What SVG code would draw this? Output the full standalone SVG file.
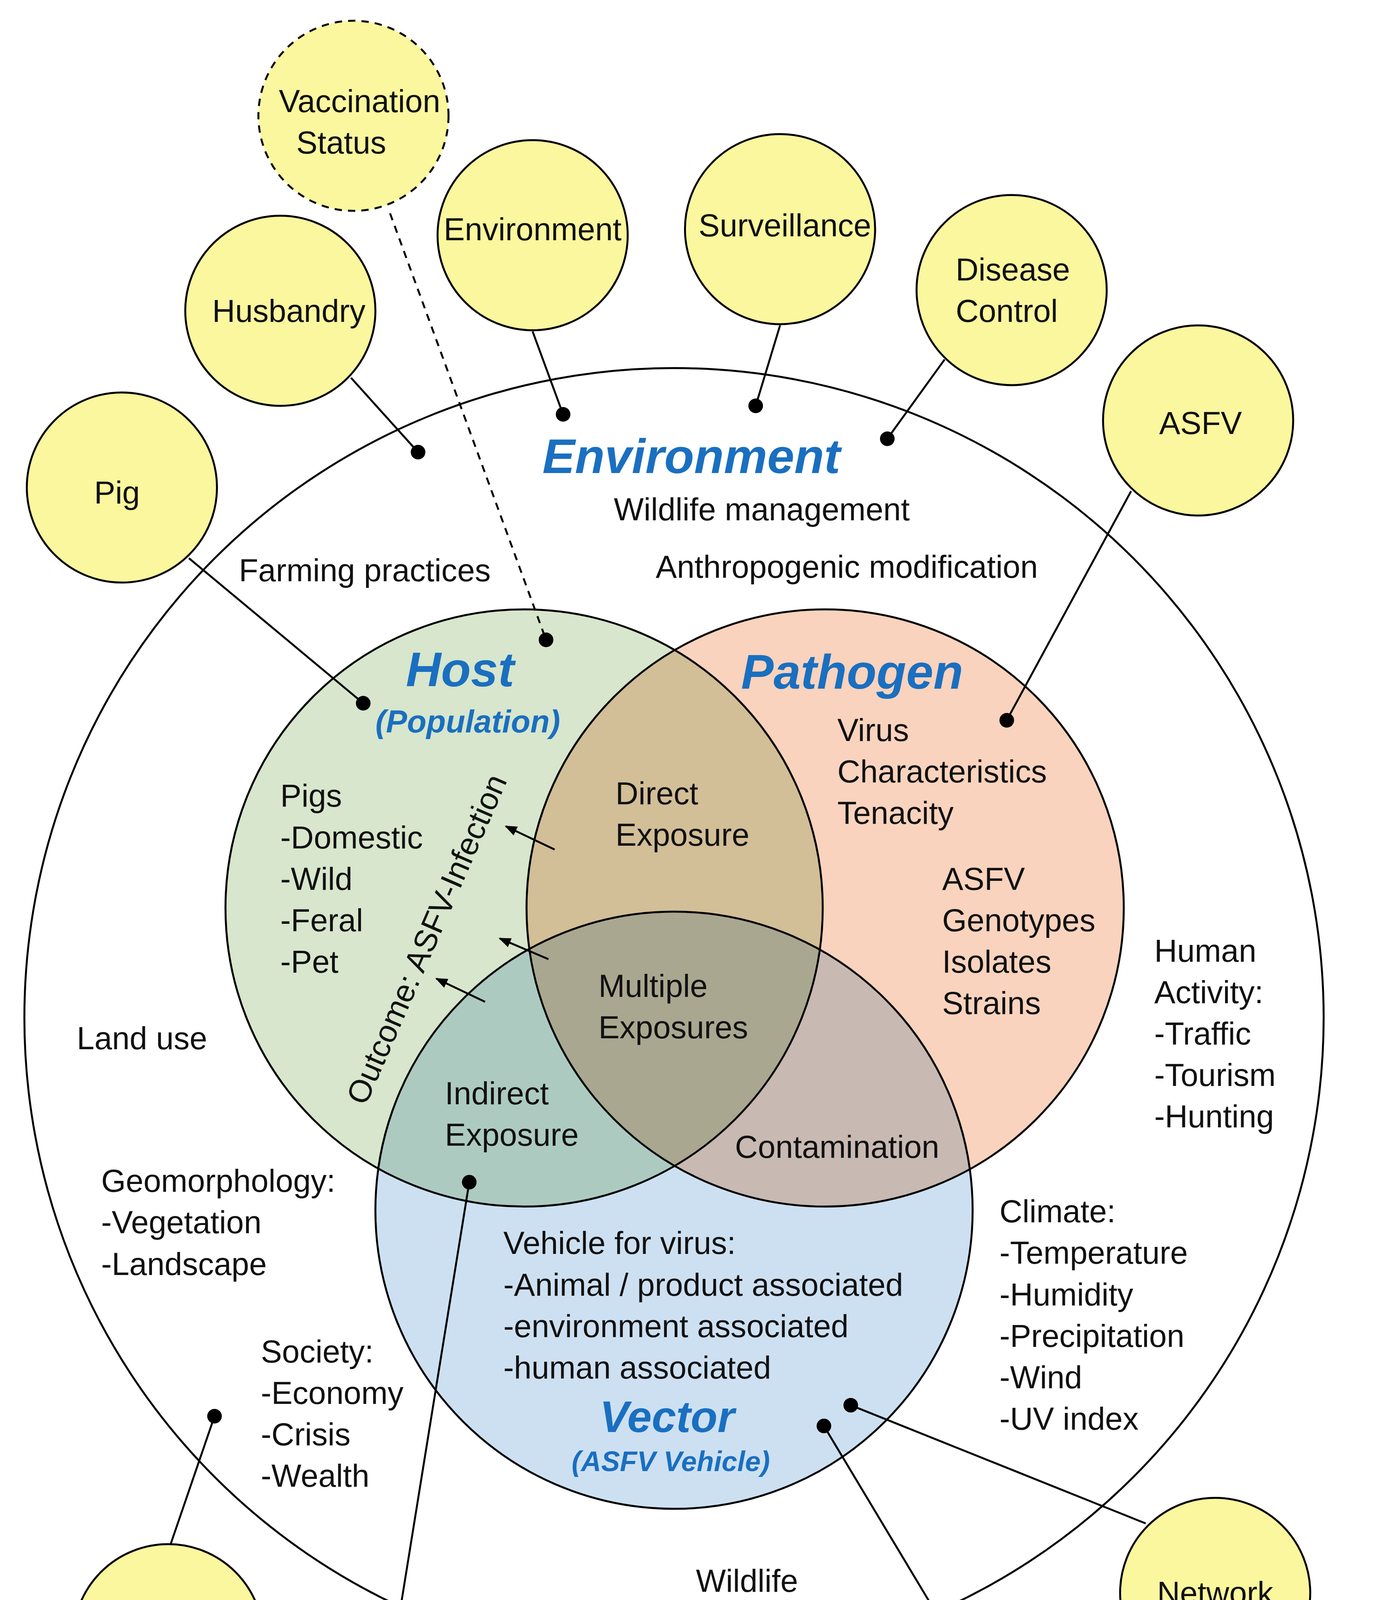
<svg xmlns="http://www.w3.org/2000/svg" width="3530" height="4855" viewBox="0 0 3530 4855">
<defs>
<style>
.t{font-family:"Liberation Sans",Arial,sans-serif;font-size:26px;fill:#111}
.h{font-family:"Liberation Sans",Arial,sans-serif;font-weight:bold;font-style:italic;fill:#1a6fc0}
.n{fill:#fbf79e;stroke:#000;stroke-width:1.6}
.d{stroke-dasharray:6 5}
.c{stroke:#000;stroke-width:1.6;fill:none}
.dot{fill:#000}
.v{stroke:#000;stroke-width:1.6;mix-blend-mode:multiply}
</style>
<marker id="ar" markerWidth="10" markerHeight="8" refX="9" refY="4" orient="auto" markerUnits="userSpaceOnUse"><path d="M0,0 L10,4 L0,8 z" fill="#000"/></marker>
</defs>
<rect width="3530" height="4855" fill="#fff"/>
<g transform="scale(3.12)">
<g id="environment-circle">
<circle cx="553" cy="835" r="533" fill="none" stroke="#000" stroke-width="1.6"/>
<text class="h" x="445" y="388" font-size="40">Environment</text>
<text class="t" x="625" y="427" text-anchor="middle">Wildlife management</text>
<text class="t" x="196" y="477">Farming practices</text>
<text class="t" x="538" y="474">Anthropogenic modification</text>
<text class="t" x="63" y="861">Land use</text>
<text class="t" x="947" y="789">Human</text><text class="t" x="947" y="823">Activity:</text><text class="t" x="947" y="857">-Traffic</text><text class="t" x="947" y="891">-Tourism</text><text class="t" x="947" y="925">-Hunting</text>
<text class="t" x="83" y="978">Geomorphology:</text><text class="t" x="83" y="1012">-Vegetation</text><text class="t" x="83" y="1046">-Landscape</text>
<text class="t" x="820" y="1003">Climate:</text><text class="t" x="820" y="1037">-Temperature</text><text class="t" x="820" y="1071">-Humidity</text><text class="t" x="820" y="1105">-Precipitation</text><text class="t" x="820" y="1139">-Wind</text><text class="t" x="820" y="1173">-UV index</text>
<text class="t" x="214" y="1118">Society:</text><text class="t" x="214" y="1152">-Economy</text><text class="t" x="214" y="1186">-Crisis</text><text class="t" x="214" y="1220">-Wealth</text>
<text class="t" x="571" y="1306">Wildlife</text>
</g>
<g id="venn" style="isolation:isolate">
<circle class="v" cx="430" cy="745" r="245" fill="#d7e6cc"/>
<circle class="v" cx="677" cy="745" r="245" fill="#f9d3bd"/>
<circle class="v" cx="553" cy="993" r="245" fill="#cde0f2"/>
</g>
<g id="host">
<text class="h" x="333" y="563" font-size="40">Host</text>
<text class="h" x="308" y="601" font-size="26">(Population)</text>
<text class="t" x="230" y="662">Pigs</text><text class="t" x="230" y="696">-Domestic</text><text class="t" x="230" y="730">-Wild</text><text class="t" x="230" y="764">-Feral</text><text class="t" x="230" y="798">-Pet</text>
<text class="t" transform="translate(300,908) rotate(-66.5)">Outcome: ASFV-Infection</text>
</g>
<g id="pathogen">
<text class="h" x="608" y="565" font-size="40">Pathogen</text>
<text class="t" x="687" y="608">Virus</text><text class="t" x="687" y="642">Characteristics</text><text class="t" x="687" y="676">Tenacity</text>
<text class="t" x="773" y="730">ASFV</text><text class="t" x="773" y="764">Genotypes</text><text class="t" x="773" y="798">Isolates</text><text class="t" x="773" y="832">Strains</text>
</g>
<g id="vector">
<text class="t" x="413" y="1029">Vehicle for virus:</text><text class="t" x="413" y="1063">-Animal / product associated</text><text class="t" x="413" y="1097">-environment associated</text><text class="t" x="413" y="1131">-human associated</text>
<text class="h" x="492" y="1175" font-size="36">Vector</text>
<text class="h" x="469" y="1207" font-size="23">(ASFV Vehicle)</text>
</g>
<g id="overlaps">
<text class="t" x="505" y="660">Direct</text><text class="t" x="505" y="694">Exposure</text>
<text class="t" x="491" y="818">Multiple</text><text class="t" x="491" y="852">Exposures</text>
<text class="t" x="365" y="906">Indirect</text><text class="t" x="365" y="940">Exposure</text>
<text class="t" x="603" y="950">Contamination</text>
</g>
<g id="connectors">
<line class="c" x1="455" y1="697" x2="415" y2="678" marker-end="url(#ar)"/>
<line class="c" x1="450" y1="787" x2="410" y2="770" marker-end="url(#ar)"/>
<line class="c" x1="398" y1="822" x2="358" y2="803" marker-end="url(#ar)"/>
<line class="c d" x1="320" y1="175" x2="448" y2="525"/>
<line class="c" x1="288" y1="310" x2="343" y2="371"/>
<line class="c" x1="437" y1="272" x2="462" y2="340"/>
<line class="c" x1="640" y1="267" x2="620" y2="333"/>
<line class="c" x1="775" y1="295" x2="728" y2="360"/>
<line class="c" x1="928" y1="403" x2="826" y2="591"/>
<line class="c" x1="155" y1="458" x2="298" y2="577"/>
<line class="c" x1="140" y1="1267" x2="176" y2="1162"/>
<line class="c" x1="322" y1="1360" x2="385" y2="970"/>
<line class="c d" x1="528" y1="1397" x2="535" y2="1330"/>
<line class="c" x1="790" y1="1360" x2="676" y2="1170"/>
<line class="c" x1="940" y1="1250" x2="698" y2="1153"/>
<circle class="dot" cx="448" cy="525" r="6"/><circle class="dot" cx="343" cy="371" r="6"/><circle class="dot" cx="462" cy="340" r="6"/><circle class="dot" cx="620" cy="333" r="6"/><circle class="dot" cx="728" cy="360" r="6"/><circle class="dot" cx="826" cy="591" r="6"/><circle class="dot" cx="298" cy="577" r="6"/><circle class="dot" cx="176" cy="1162" r="6"/><circle class="dot" cx="385" cy="970" r="6"/><circle class="dot" cx="535" cy="1330" r="6"/><circle class="dot" cx="676" cy="1170" r="6"/><circle class="dot" cx="698" cy="1153" r="6"/>
</g>
<g id="n-vaccination"><circle class="n d" cx="290" cy="95" r="78"/><text class="t" x="295" y="92" text-anchor="middle">Vaccination</text><text class="t" x="280" y="126" text-anchor="middle">Status</text></g>
<g id="n-husbandry"><circle class="n" cx="230" cy="255" r="78"/><text class="t" x="237" y="264" text-anchor="middle">Husbandry</text></g>
<g id="n-environment"><circle class="n" cx="437" cy="193" r="78"/><text class="t" x="437" y="197" text-anchor="middle">Environment</text></g>
<g id="n-surveillance"><circle class="n" cx="640" cy="188" r="78"/><text class="t" x="644" y="194" text-anchor="middle">Surveillance</text></g>
<g id="n-disease"><circle class="n" cx="830" cy="238" r="78"/><text class="t" x="831" y="230" text-anchor="middle">Disease</text><text class="t" x="826" y="264" text-anchor="middle">Control</text></g>
<g id="n-asfv"><circle class="n" cx="983" cy="345" r="78"/><text class="t" x="985" y="356" text-anchor="middle">ASFV</text></g>
<g id="n-pig"><circle class="n" cx="100" cy="400" r="78"/><text class="t" x="96" y="413" text-anchor="middle">Pig</text></g>
<g id="n-society"><circle class="n" cx="138" cy="1345" r="78"/><text class="t" x="136" y="1355" text-anchor="middle">Society</text></g>
<g id="n-biosecurity"><circle class="n" cx="320" cy="1438" r="78"/><text class="t" x="323" y="1450" text-anchor="middle">Biosecurity</text></g>
<g id="n-wildlife"><circle class="n d" cx="528" cy="1475" r="78"/><text class="t" x="458" y="1468" font-size="24">Wildlife</text><text class="t" x="458" y="1499" font-size="24">Management</text></g>
<g id="n-movement"><circle class="n" cx="848" cy="1415" r="78"/><text class="t" x="850" y="1424" text-anchor="middle">Movement</text></g>
<g id="n-network"><circle class="n" cx="997" cy="1307" r="78"/><text class="t" x="997" y="1316" text-anchor="middle">Network</text></g>
</g>
</svg>
